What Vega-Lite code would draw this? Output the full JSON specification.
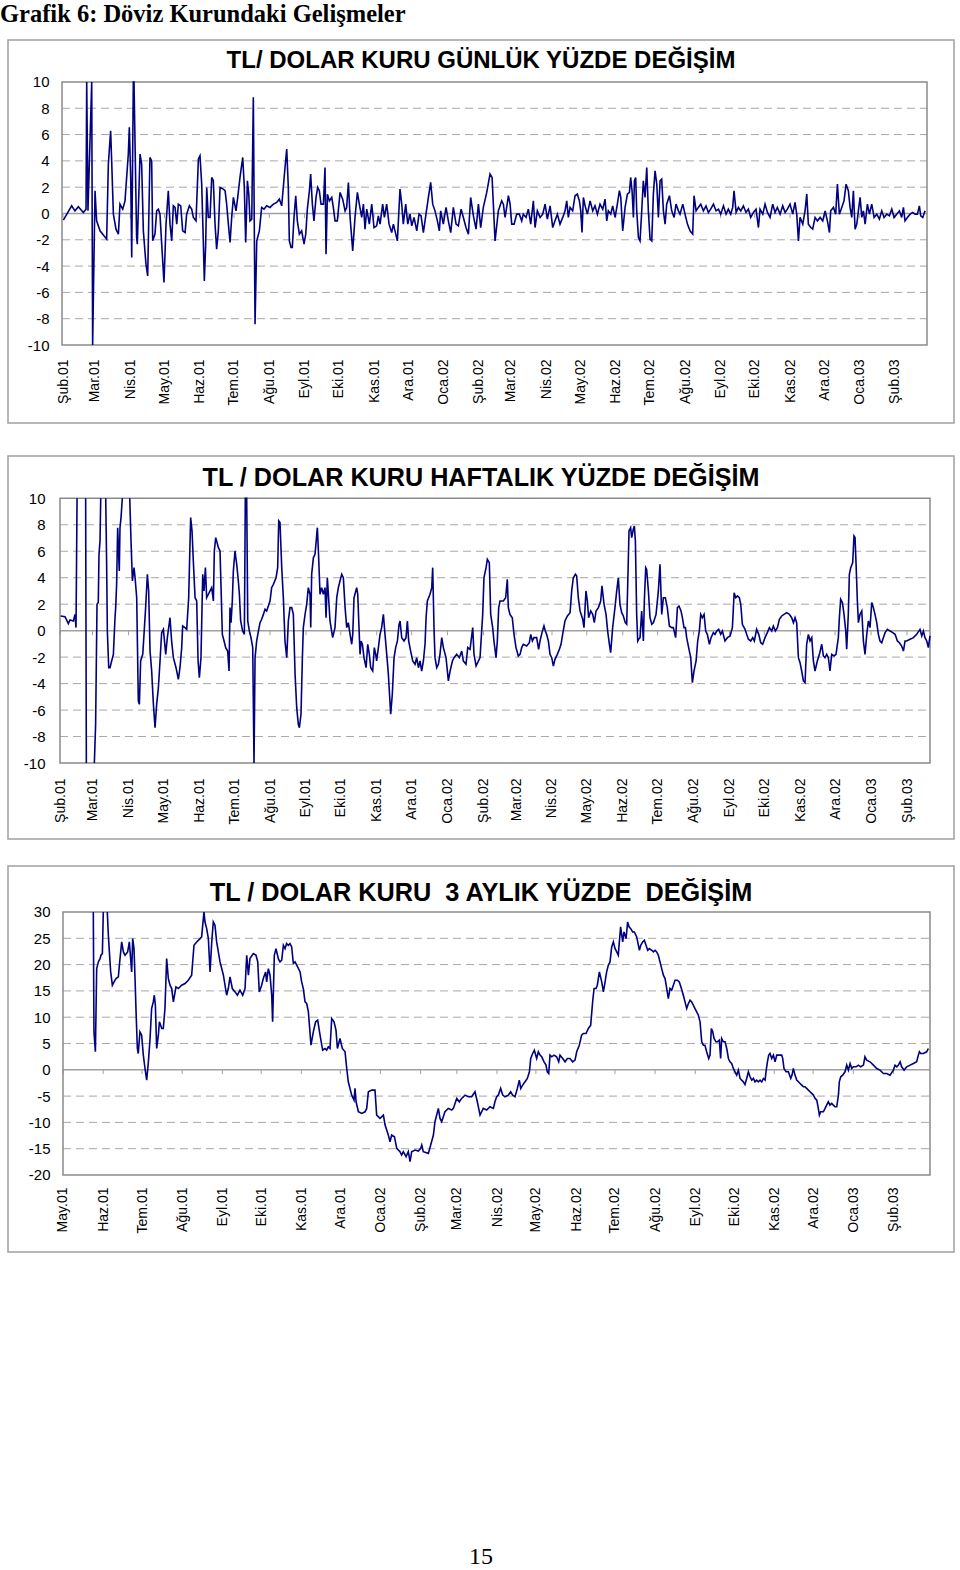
{
"$schema": "https://vega.github.io/schema/vega-lite/v6.json",
"background": "white",
"padding": {"left": 0, "top": 1, "right": 0, "bottom": 0},
"title": {"text": "Grafik 6: Döviz Kurundaki Gelişmeler", "anchor": "start", "frame": "group", "font": "Liberation Serif", "fontSize": 24.5, "fontWeight": "bold", "color": "#000", "dx": -8, "offset": 12},
"config": {"view": {"stroke": "#a0a0a0", "strokeWidth": 1.5}},
"datasets": {
"m12": [{"d":0},{"d":28},{"d":59},{"d":89},{"d":120},{"d":150},{"d":181},{"d":212},{"d":242},{"d":273},{"d":303},{"d":334},{"d":365},{"d":393},{"d":424},{"d":454},{"d":485},{"d":515},{"d":546},{"d":577},{"d":607},{"d":638},{"d":668},{"d":699},{"d":730}],
"m3": [{"d":0},{"d":31},{"d":61},{"d":92},{"d":123},{"d":153},{"d":184},{"d":214},{"d":245},{"d":276},{"d":304},{"d":335},{"d":365},{"d":396},{"d":426},{"d":457},{"d":488},{"d":518},{"d":549},{"d":579},{"d":610},{"d":641}],
"daily": [
{"d":0.3,"v":-0.51},{"d":7.6,"v":0.58},{"d":10.5,"v":0.2},{"d":13.5,"v":0.51},{"d":17.8,"v":0.08},{"d":20.2,"v":0.33},{"d":20.8,"v":10},{"d":21.9,"v":0.2},{"d":25.2,"v":10},{"d":26,"v":-10},{"d":28.1,"v":1.73},{"d":29.5,"v":-0.56},{"d":32.5,"v":-1.32},{"d":38.3,"v":-1.95},{"d":39.8,"v":3.76},{"d":41.8,"v":6.29},{"d":42.7,"v":4.0},{"d":44.2,"v":-0.05},{"d":46.5,"v":-1.19},{"d":48.6,"v":-1.57},{"d":50,"v":0.71},{"d":52.4,"v":0.33},{"d":54.4,"v":0.96},{"d":57.3,"v":4.52},{"d":58.2,"v":6.55},{"d":59.4,"v":2.74},{"d":60.3,"v":-3.35},{"d":61.7,"v":10},{"d":62.3,"v":10},{"d":64.6,"v":-1.83},{"d":65.2,"v":-2.33},{"d":67.6,"v":4.52},{"d":69,"v":3.76},{"d":70.5,"v":-1.32},{"d":72.8,"v":-3.86},{"d":74.3,"v":-4.75},{"d":76.3,"v":4.26},{"d":77.8,"v":4.0},{"d":78.7,"v":-2.08},{"d":80.7,"v":-1.57},{"d":82.2,"v":0.2},{"d":83.7,"v":0.33},{"d":85.1,"v":-0.05},{"d":86.6,"v":-2.33},{"d":88.6,"v":-5.25},{"d":90.4,"v":-0.81},{"d":92.4,"v":1.73},{"d":93.9,"v":-0.81},{"d":95.4,"v":-2.08},{"d":96.8,"v":0.58},{"d":98.3,"v":0.46},{"d":99.8,"v":-0.81},{"d":101.2,"v":0.71},{"d":103.3,"v":0.58},{"d":105,"v":-1.32},{"d":107.1,"v":-1.45},{"d":108.5,"v":-0.05},{"d":110.9,"v":0.58},{"d":112.9,"v":0.33},{"d":114.4,"v":-0.3},{"d":116.7,"v":-0.56},{"d":118.8,"v":4.14},{"d":120.2,"v":4.39},{"d":121.7,"v":2.23},{"d":123.1,"v":-2.08},{"d":124,"v":-5.13},{"d":125.2,"v":-2.33},{"d":126.1,"v":1.98},{"d":127.5,"v":-0.3},{"d":129,"v":-0.3},{"d":130.5,"v":2.74},{"d":131.9,"v":2.49},{"d":133.4,"v":-0.81},{"d":134.8,"v":-2.72},{"d":136.3,"v":-1.32},{"d":137.8,"v":1.98},{"d":140.7,"v":1.85},{"d":142.2,"v":1.73},{"d":143.6,"v":0.71},{"d":145.1,"v":-0.81},{"d":146.6,"v":-2.21},{"d":148,"v":-0.3},{"d":149.5,"v":1.22},{"d":151.8,"v":0.2},{"d":153.3,"v":1.22},{"d":155.3,"v":2.74},{"d":157.7,"v":4.26},{"d":159.1,"v":1.98},{"d":160.3,"v":-2.21},{"d":161.8,"v":2.49},{"d":163,"v":1.47},{"d":164.1,"v":-0.56},{"d":165.6,"v":-0.43},{"d":167,"v":8.83},{"d":168.5,"v":-8.43},{"d":170,"v":-2.08},{"d":172.3,"v":-1.32},{"d":174.3,"v":0.46},{"d":176.4,"v":0.33},{"d":178.7,"v":0.58},{"d":181.6,"v":0.46},{"d":184.6,"v":0.71},{"d":187.5,"v":0.84},{"d":189.8,"v":1.09},{"d":191.9,"v":0.58},{"d":194.8,"v":3.5},{"d":196.3,"v":4.9},{"d":197.7,"v":1.98},{"d":198.6,"v":-2.08},{"d":200.1,"v":-2.59},{"d":201.2,"v":-2.59},{"d":202.7,"v":-0.3},{"d":204.2,"v":1.35},{"d":205.6,"v":-0.56},{"d":207.4,"v":-1.57},{"d":209.4,"v":-1.32},{"d":211.5,"v":-2.33},{"d":213,"v":-1.57},{"d":214.4,"v":0.33},{"d":216.2,"v":1.73},{"d":217.3,"v":3.0},{"d":218.8,"v":0.71},{"d":220.2,"v":-0.56},{"d":222,"v":1.22},{"d":223.5,"v":1.98},{"d":224.9,"v":1.73},{"d":226.4,"v":0.71},{"d":228.5,"v":0.71},{"d":229.9,"v":3.5},{"d":230.8,"v":-3.1},{"d":232,"v":1.47},{"d":233.7,"v":0.96},{"d":235.8,"v":1.22},{"d":237.2,"v":0.46},{"d":238.7,"v":-0.56},{"d":240.7,"v":-0.56},{"d":243.1,"v":1.6},{"d":245.4,"v":1.09},{"d":247.5,"v":0.2},{"d":248.9,"v":0.46},{"d":250.4,"v":2.36},{"d":251.9,"v":-0.3},{"d":254.2,"v":-2.84},{"d":256.2,"v":-0.3},{"d":258.3,"v":1.6},{"d":260,"v":0.71},{"d":262.1,"v":-0.3},{"d":263.6,"v":0.71},{"d":265,"v":-1.19},{"d":266.5,"v":0.33},{"d":268.8,"v":-0.81},{"d":270.9,"v":0.71},{"d":272.9,"v":-1.07},{"d":275.2,"v":-0.94},{"d":276.7,"v":-0.18},{"d":278.2,"v":-0.81},{"d":280.5,"v":0.71},{"d":282,"v":-0.3},{"d":284,"v":0.71},{"d":286.1,"v":-0.81},{"d":288.4,"v":-1.45},{"d":289.9,"v":-0.81},{"d":291.3,"v":-1.32},{"d":293.4,"v":-2.08},{"d":295.7,"v":1.85},{"d":297.2,"v":0.71},{"d":298.6,"v":-0.81},{"d":300.7,"v":0.71},{"d":302.5,"v":-0.81},{"d":304.5,"v":-0.05},{"d":306,"v":-0.94},{"d":308,"v":-0.3},{"d":310.4,"v":-1.32},{"d":312.4,"v":-0.05},{"d":314.2,"v":-0.18},{"d":316.2,"v":-1.45},{"d":318.5,"v":-0.05},{"d":320.6,"v":1.22},{"d":322.6,"v":2.36},{"d":324.4,"v":0.71},{"d":326.4,"v":0.2},{"d":328.5,"v":-0.56},{"d":330.2,"v":-1.32},{"d":331.4,"v":0.2},{"d":333.7,"v":-0.81},{"d":336.1,"v":0.46},{"d":338.1,"v":-0.56},{"d":340.2,"v":-1.45},{"d":342.5,"v":0.46},{"d":344.9,"v":-0.81},{"d":346.9,"v":-0.94},{"d":349.3,"v":0.33},{"d":351.3,"v":-0.3},{"d":353.6,"v":-1.07},{"d":355.7,"v":-1.57},{"d":357.7,"v":1.22},{"d":360.1,"v":-0.18},{"d":362.4,"v":-1.19},{"d":364.5,"v":0.71},{"d":366.5,"v":-1.07},{"d":368.8,"v":0.46},{"d":371.8,"v":1.6},{"d":374.7,"v":3.0},{"d":376.5,"v":2.74},
{"d":379.1,"v":-2.08},{"d":382,"v":0.2},{"d":384.9,"v":0.96},{"d":386.4,"v":0.71},{"d":387.9,"v":-0.3},{"d":389.3,"v":0.46},{"d":390.8,"v":1.35},{"d":392.3,"v":0.71},{"d":393.7,"v":-0.81},{"d":395.8,"v":-0.81},{"d":398.1,"v":-0.05},{"d":400.4,"v":-0.05},{"d":402.5,"v":-0.56},{"d":403.9,"v":-0.05},{"d":406.3,"v":-0.3},{"d":408.3,"v":0.33},{"d":410.4,"v":-0.81},{"d":412.7,"v":0.96},{"d":414.2,"v":-1.07},{"d":416.2,"v":0.2},{"d":418.6,"v":-0.3},{"d":420.9,"v":-0.05},{"d":423,"v":0.71},{"d":425,"v":-0.43},{"d":427.4,"v":0.58},{"d":429.7,"v":-1.07},{"d":431.7,"v":-0.56},{"d":433.8,"v":-0.05},{"d":436.1,"v":-0.81},{"d":438.5,"v":-0.3},{"d":440.5,"v":0.2},{"d":442,"v":0.96},{"d":443.4,"v":-0.3},{"d":444.9,"v":0.46},{"d":447.2,"v":0.2},{"d":449.3,"v":1.35},{"d":451.3,"v":1.47},{"d":453.1,"v":0.96},{"d":454.3,"v":0.2},{"d":455.4,"v":-1.45},{"d":456.6,"v":1.22},{"d":458.1,"v":0.58},{"d":460.1,"v":-0.05},{"d":462.5,"v":0.96},{"d":464.8,"v":0.2},{"d":466.8,"v":0.58},{"d":468.9,"v":-0.05},{"d":471.2,"v":0.71},{"d":473.6,"v":0.33},{"d":475.6,"v":1.09},{"d":477.1,"v":-0.56},{"d":478.5,"v":0.2},{"d":480.6,"v":-0.05},{"d":482.3,"v":0.58},{"d":484.4,"v":-0.3},{"d":486.4,"v":0.71},{"d":488.2,"v":1.73},{"d":489.4,"v":1.22},{"d":491.1,"v":-1.32},{"d":493.2,"v":0.46},{"d":495.2,"v":1.47},{"d":497,"v":1.6},{"d":498.1,"v":2.74},{"d":499.3,"v":1.73},{"d":500.5,"v":-0.3},{"d":501.4,"v":2.49},{"d":502.5,"v":2.74},{"d":503.4,"v":0.2},{"d":504.9,"v":-1.83},{"d":506.3,"v":-2.08},{"d":507.8,"v":0.2},{"d":509.2,"v":2.49},{"d":510.7,"v":1.22},{"d":512.2,"v":3.5},{"d":513.6,"v":0.2},{"d":515.1,"v":-1.95},{"d":516.6,"v":-2.08},{"d":518,"v":1.47},{"d":519.5,"v":3.25},{"d":521,"v":2.23},{"d":522.4,"v":-0.3},{"d":523.9,"v":2.49},{"d":525.3,"v":2.61},{"d":526.8,"v":0.2},{"d":528.3,"v":-0.81},{"d":529.7,"v":0.71},{"d":532.1,"v":1.35},{"d":534.1,"v":0.2},{"d":536.2,"v":-0.3},{"d":537.9,"v":0.71},{"d":540,"v":0.2},{"d":541.4,"v":-0.05},{"d":543.8,"v":0.71},{"d":545.8,"v":-0.05},{"d":547.9,"v":-0.81},{"d":550.2,"v":-1.32},{"d":552.5,"v":-1.57},{"d":553.7,"v":1.35},{"d":555.5,"v":0.2},{"d":557.5,"v":0.46},{"d":559.6,"v":0.71},{"d":561.9,"v":0.2},{"d":564.2,"v":0.58},{"d":566.3,"v":0.08},{"d":568.3,"v":0.33},{"d":570.7,"v":0.71},{"d":573,"v":0.2},{"d":575.1,"v":0.33},{"d":577.1,"v":-0.05},{"d":579.5,"v":0.58},{"d":581.8,"v":-0.05},{"d":583.8,"v":0.33},{"d":585.9,"v":-0.05},{"d":587.6,"v":0.46},{"d":588.8,"v":1.73},{"d":590.6,"v":0.08},{"d":592.6,"v":0.46},{"d":594.7,"v":0.2},{"d":597,"v":0.58},{"d":599.3,"v":0.08},{"d":601.4,"v":0.33},{"d":603.4,"v":-0.3},{"d":605.8,"v":0.08},{"d":608.1,"v":0.33},{"d":610.2,"v":-1.07},{"d":611.6,"v":0.33},{"d":614,"v":-0.05},{"d":616,"v":0.71},{"d":618.1,"v":0.08},{"d":620.4,"v":-0.3},{"d":622.7,"v":0.71},{"d":624.8,"v":0.08},{"d":626.8,"v":0.46},{"d":629.2,"v":-0.05},{"d":631.5,"v":0.58},{"d":633.6,"v":0.08},{"d":635.6,"v":0.33},{"d":637.9,"v":0.71},{"d":640.3,"v":-0.05},{"d":642.3,"v":0.84},{"d":643.8,"v":-0.05},{"d":645.3,"v":-2.08},{"d":646.7,"v":-0.3},{"d":649.1,"v":-0.81},{"d":651.1,"v":0.2},{"d":652.6,"v":1.47},{"d":654,"v":-0.81},{"d":656.1,"v":-1.07},{"d":657.8,"v":-1.19},{"d":659.9,"v":-0.3},{"d":662,"v":-0.56},{"d":664.3,"v":-0.3},{"d":666.6,"v":-0.56},{"d":668.7,"v":0.2},{"d":670.7,"v":-0.56},{"d":672.5,"v":-1.45},{"d":673.6,"v":0.2},{"d":676,"v":0.46},{"d":678,"v":-0.05},{"d":679.5,"v":2.23},{"d":681.2,"v":-0.05},{"d":683.3,"v":0.46},{"d":685.3,"v":0.96},{"d":687.1,"v":2.23},{"d":689.1,"v":1.73},{"d":690.6,"v":0.46},{"d":692.1,"v":-0.3},{"d":693.5,"v":1.73},{"d":695,"v":-1.19},{"d":696.5,"v":-0.81},{"d":697.9,"v":0.2},{"d":699.4,"v":1.22},{"d":700.9,"v":-0.3},{"d":702.3,"v":0.2},{"d":703.8,"v":-0.81},{"d":705.8,"v":0.71},{"d":707.6,"v":-0.05},{"d":709.6,"v":0.71},{"d":711.7,"v":-0.3},{"d":714,"v":-0.05},{"d":716.3,"v":-0.43},{"d":718.4,"v":0.2},{"d":720.4,"v":-0.3},{"d":722.8,"v":-0.05},{"d":725.1,"v":-0.18},{"d":727.2,"v":0.33},{"d":729.2,"v":-0.3},{"d":731.5,"v":-0.05},{"d":733.9,"v":0.2},{"d":735.9,"v":-0.3},{"d":737.4,"v":0.46},{"d":738.8,"v":-0.56},{"d":740.9,"v":-0.3},{"d":743.3,"v":-0.05},{"d":745.6,"v":0.08},{"d":747.6,"v":-0.05},{"d":749.7,"v":-0.05},{"d":751.4,"v":0.58},{"d":752.6,"v":-0.18},{"d":754.4,"v":-0.3},{"d":756.4,"v":0.2}
],
"weekly": [
{"d":0.6,"v":1.11},{"d":4.3,"v":1.06},{"d":7.2,"v":0.53},{"d":8.6,"v":0.81},{"d":11.5,"v":0.73},{"d":12.9,"v":1.23},{"d":13.8,"v":0.23},{"d":14.7,"v":10},{"d":18.4,"v":null},{"d":22.1,"v":10},{"d":22.7,"v":-10},{"d":26,"v":null},{"d":29.6,"v":-10},{"d":30.7,"v":-7.08},{"d":31.9,"v":1.99},{"d":33,"v":2.12},{"d":33.6,"v":5.77},{"d":34.5,"v":6.78},{"d":35.1,"v":10},{"d":37,"v":null},{"d":39.4,"v":10},{"d":40.2,"v":5.01},{"d":40.8,"v":-0.03},{"d":42,"v":-2.8},{"d":43.1,"v":-2.8},{"d":44.5,"v":-2.29},{"d":46,"v":-1.79},{"d":47.4,"v":0.98},{"d":48,"v":1.74},{"d":48.8,"v":3.5},{"d":49.7,"v":7.78},{"d":51.1,"v":4.51},{"d":51.7,"v":7.78},{"d":52.6,"v":8.54},{"d":53.7,"v":10},{"d":57,"v":null},{"d":60.1,"v":10},{"d":61.2,"v":6.78},{"d":62.4,"v":3.75},{"d":63.8,"v":4.76},{"d":64.7,"v":4.0},{"d":66.1,"v":2.49},{"d":67.5,"v":-5.31},{"d":68.4,"v":-5.57},{"d":69.5,"v":-2.29},{"d":71.3,"v":-1.79},{"d":72.4,"v":-0.28},{"d":73.8,"v":1.74},{"d":75.3,"v":4.26},{"d":76.4,"v":3.0},{"d":77.6,"v":-1.54},{"d":79,"v":-3.05},{"d":80.5,"v":-5.57},{"d":81.9,"v":-7.33},{"d":83.3,"v":-5.57},{"d":84.8,"v":-4.31},{"d":86.2,"v":-2.29},{"d":87.6,"v":-0.15},{"d":89.1,"v":0.1},{"d":91.1,"v":-1.79},{"d":92.5,"v":-0.53},{"d":94.8,"v":0.98},{"d":96.2,"v":-0.78},{"d":97.7,"v":-2.04},{"d":100,"v":-2.8},{"d":102,"v":-3.68},{"d":103.4,"v":-2.8},{"d":104.9,"v":-1.28},{"d":105.7,"v":0.35},{"d":107.7,"v":0.23},{"d":109.2,"v":0.1},{"d":110,"v":1.23},{"d":110.9,"v":2.49},{"d":112.6,"v":8.54},{"d":113.8,"v":7.53},{"d":114.9,"v":5.26},{"d":116.4,"v":2.49},{"d":117.8,"v":2.24},{"d":119,"v":-2.29},{"d":120.1,"v":-3.55},{"d":121.5,"v":-2.04},{"d":123,"v":4.26},{"d":124.1,"v":3.0},{"d":125.3,"v":4.76},{"d":126.4,"v":2.49},{"d":127.9,"v":2.75},{"d":129.3,"v":3.0},{"d":130.7,"v":3.25},{"d":132.2,"v":2.24},{"d":133,"v":6.02},{"d":134.2,"v":7.03},{"d":135,"v":6.78},{"d":136.5,"v":6.27},{"d":137.9,"v":6.02},{"d":138.8,"v":3.25},{"d":139.9,"v":-0.28},{"d":141.4,"v":-0.78},{"d":142.8,"v":-1.28},{"d":144.5,"v":-1.54},{"d":145.7,"v":-3.05},{"d":146.5,"v":1.74},{"d":147.4,"v":0.6},{"d":148.5,"v":2.24},{"d":149.4,"v":4.51},{"d":150.8,"v":6.02},{"d":152.3,"v":5.01},{"d":153.7,"v":3.75},{"d":154.6,"v":2.75},{"d":155.7,"v":0.73},{"d":157.4,"v":-0.03},{"d":158.9,"v":-0.28},{"d":159.7,"v":10},{"d":160.9,"v":10},{"d":161.8,"v":0.73},{"d":163.2,"v":-0.03},{"d":164.6,"v":-0.53},{"d":166.1,"v":-1.28},{"d":167.2,"v":-10},{"d":168.1,"v":-2.04},{"d":169.5,"v":-0.78},{"d":171,"v":-0.03},{"d":172.4,"v":0.6},{"d":173.8,"v":0.86},{"d":175.3,"v":1.23},{"d":176.7,"v":1.61},{"d":178.1,"v":1.49},{"d":181,"v":2.24},{"d":182.4,"v":3.25},{"d":183.9,"v":3.5},{"d":186.2,"v":4.0},{"d":187.6,"v":4.76},{"d":188.5,"v":8.29},{"d":189.6,"v":8.16},{"d":191.1,"v":4.76},{"d":192.5,"v":2.49},{"d":193.9,"v":-0.78},{"d":195.4,"v":-2.04},{"d":196.8,"v":0.73},{"d":198.2,"v":1.74},{"d":199.7,"v":1.74},{"d":201.1,"v":1.23},{"d":202.6,"v":-3.3},{"d":204,"v":-5.82},{"d":205.4,"v":-7.08},{"d":206.3,"v":-7.33},{"d":207.7,"v":-6.32},{"d":208.9,"v":-2.04},{"d":209.7,"v":0.23},{"d":211.2,"v":1.23},{"d":212.6,"v":1.99},{"d":214,"v":3.25},{"d":215.5,"v":2.75},{"d":216.1,"v":0.23},{"d":216.9,"v":4.26},{"d":218.4,"v":5.52},{"d":219.8,"v":5.77},{"d":221.8,"v":7.78},{"d":222.7,"v":6.02},{"d":224.1,"v":2.75},{"d":225.5,"v":3.25},{"d":227,"v":2.75},{"d":228.4,"v":3.25},{"d":229.3,"v":0.98},{"d":230.4,"v":4.0},{"d":231.3,"v":2.75},{"d":232.7,"v":0.73},{"d":235,"v":-0.53},{"d":237,"v":0.23},{"d":238.5,"v":2.49},{"d":239.9,"v":3.25},{"d":241.3,"v":3.75},{"d":242.8,"v":4.26},{"d":244.2,"v":4.0},{"d":245.7,"v":1.74},{"d":247.1,"v":0.23},{"d":248.5,"v":0.6},{"d":250,"v":-0.28},{"d":251.4,"v":-1.03},{"d":252.3,"v":-0.28},{"d":253.4,"v":2.49},{"d":255.7,"v":3.25},{"d":256.6,"v":2.75},{"d":257.7,"v":0.23},{"d":258.6,"v":-1.79},{"d":259.5,"v":-0.78},{"d":260.6,"v":-1.03},{"d":262,"v":-2.04},{"d":263.8,"v":-2.8},{"d":265.2,"v":-1.03},{"d":266.6,"v":-1.79},{"d":267.8,"v":-2.8},{"d":269.5,"v":-3.05},{"d":270.9,"v":-1.28},{"d":272.1,"v":-1.79},{"d":272.9,"v":-2.29},{"d":274.4,"v":-1.28},{"d":275.8,"v":-0.28},{"d":277.2,"v":0.23},{"d":278.7,"v":1.23},{"d":280.1,"v":-0.28},{"d":281.6,"v":-1.79},{"d":283,"v":-3.3},{"d":285,"v":-6.32},{"d":286.4,"v":-4.81},{"d":287.9,"v":-2.04},{"d":289.3,"v":-1.28},{"d":290.8,"v":-0.78},{"d":292.2,"v":0.48},{"d":293.1,"v":0.73},{"d":294.5,"v":-0.53},{"d":296.5,"v":-0.78},{"d":298.2,"v":-0.53},{"d":299.4,"v":0.73},{"d":300.5,"v":-0.78},{"d":302.2,"v":-1.54},{"d":304,"v":-2.29},{"d":306,"v":-2.54},{"d":307.4,"v":-2.04},{"d":308.9,"v":-2.8},{"d":310.3,"v":-2.29},{"d":311.7,"v":-3.05},{"d":313.2,"v":-2.29},{"d":314.6,"v":-1.03},{"d":315.5,"v":0.98},{"d":316.6,"v":2.24},{"d":318.9,"v":2.75},{"d":320.4,"v":3.25},{"d":321.2,"v":4.76},{"d":322.4,"v":-0.03},{"d":323.2,"v":-2.04},{"d":324.7,"v":-2.8},{"d":326.1,"v":-2.54},{"d":327.5,"v":-1.79},{"d":329,"v":-0.53},{"d":330.4,"v":-1.28},{"d":332.7,"v":-2.04},{"d":334.7,"v":-3.8},{"d":336.2,"v":-3.05},{"d":338.2,"v":-2.29},{"d":339.6,"v":-2.04},{"d":341.9,"v":-1.79},{"d":344.2,"v":-2.04},{"d":346.2,"v":-1.54},{"d":347.6,"v":-2.29},{"d":349.9,"v":-2.54},{"d":351.4,"v":-1.28},{"d":353.4,"v":-1.41},{"d":355.7,"v":0.23},{"d":356.8,"v":-1.79},{"d":358.6,"v":-2.67},{"d":362,"v":-2.04},
{"d":364.3,"v":1.23},{"d":365.4,"v":4.0},{"d":367.2,"v":4.76},{"d":368.3,"v":5.39},{"d":370,"v":5.14},{"d":371.2,"v":1.23},{"d":372.9,"v":0.23},{"d":374,"v":-0.78},{"d":375.8,"v":-2.04},{"d":376.9,"v":-0.78},{"d":378.1,"v":1.74},{"d":379.2,"v":2.24},{"d":382.1,"v":2.24},{"d":384.1,"v":2.49},{"d":385.5,"v":3.88},{"d":386.4,"v":1.74},{"d":387.8,"v":1.23},{"d":389.8,"v":0.98},{"d":391.3,"v":-0.28},{"d":393,"v":-1.28},{"d":395,"v":-1.91},{"d":396.5,"v":-1.79},{"d":397.9,"v":-1.28},{"d":399.3,"v":-1.03},{"d":402.2,"v":-1.16},{"d":404.5,"v":-0.91},{"d":405.7,"v":-0.28},{"d":407.1,"v":-0.78},{"d":408.5,"v":-0.53},{"d":410.8,"v":-0.53},{"d":412.5,"v":-1.41},{"d":413.7,"v":-0.78},{"d":415.4,"v":-0.15},{"d":417.1,"v":0.35},{"d":418.3,"v":-0.03},{"d":419.4,"v":-0.28},{"d":420.9,"v":-0.78},{"d":422.3,"v":-1.79},{"d":423.8,"v":-2.04},{"d":425.2,"v":-2.67},{"d":426.6,"v":-2.17},{"d":428.6,"v":-1.79},{"d":430.4,"v":-1.41},{"d":431.8,"v":-1.03},{"d":433.2,"v":-0.28},{"d":435.2,"v":0.73},{"d":437.3,"v":1.11},{"d":439.6,"v":1.36},{"d":441,"v":3.0},{"d":442.4,"v":4.0},{"d":444.2,"v":4.26},{"d":445.3,"v":4.13},{"d":446.7,"v":2.49},{"d":448.2,"v":1.49},{"d":450.5,"v":0.86},{"d":451.6,"v":0.23},{"d":453.3,"v":3.0},{"d":454.5,"v":2.24},{"d":455.6,"v":0.98},{"d":457.4,"v":1.49},{"d":459.1,"v":1.23},{"d":460.5,"v":0.6},{"d":462,"v":1.49},{"d":464,"v":1.74},{"d":466,"v":2.24},{"d":467.1,"v":3.38},{"d":468.9,"v":1.99},{"d":470.6,"v":1.23},{"d":472,"v":-0.03},{"d":473.5,"v":-1.03},{"d":474.6,"v":-1.66},{"d":476.3,"v":0.23},{"d":478.3,"v":1.74},{"d":479.8,"v":3.0},{"d":481.2,"v":4.0},{"d":482.6,"v":1.99},{"d":484.1,"v":1.36},{"d":485.5,"v":1.11},{"d":487.2,"v":0.6},{"d":488.4,"v":0.48},{"d":489.5,"v":4.26},{"d":490.4,"v":7.53},{"d":491.8,"v":7.78},{"d":492.7,"v":7.03},{"d":494.1,"v":7.66},{"d":495,"v":7.91},{"d":495.9,"v":6.78},{"d":497,"v":1.23},{"d":497.9,"v":-0.78},{"d":498.7,"v":-0.65},{"d":499.9,"v":-0.53},{"d":501.3,"v":1.49},{"d":502.8,"v":-0.78},{"d":503.6,"v":2.24},{"d":504.8,"v":4.76},{"d":505.6,"v":4.63},{"d":507.1,"v":3.0},{"d":508.5,"v":0.98},{"d":510,"v":0.48},{"d":511.4,"v":0.6},{"d":513.7,"v":1.23},{"d":515.7,"v":3.0},{"d":517.1,"v":5.01},{"d":518.6,"v":1.23},{"d":520,"v":2.49},{"d":521.7,"v":2.49},{"d":523.4,"v":1.74},{"d":525.2,"v":0.35},{"d":527.2,"v":0.23},{"d":528.6,"v":0.23},{"d":530.6,"v":-0.53},{"d":532.1,"v":1.74},{"d":533.5,"v":1.86},{"d":535.2,"v":1.49},{"d":536.4,"v":0.98},{"d":537.8,"v":0.23},{"d":539,"v":0.23},{"d":540.1,"v":-0.53},{"d":541.8,"v":-1.28},{"d":543.6,"v":-2.04},{"d":545,"v":-3.93},{"d":546.4,"v":-3.05},{"d":548.2,"v":-2.29},{"d":549.6,"v":-0.78},{"d":551,"v":-0.03},{"d":552.2,"v":1.23},{"d":553.6,"v":0.98},{"d":555.1,"v":1.23},{"d":556.5,"v":-0.03},{"d":557.9,"v":-0.28},{"d":559.7,"v":-1.03},{"d":561.1,"v":-0.53},{"d":563.1,"v":-0.15},{"d":564.5,"v":-0.28},{"d":566,"v":-0.03},{"d":567.7,"v":0.1},{"d":569.4,"v":-0.28},{"d":570.9,"v":-0.03},{"d":573.1,"v":-0.78},{"d":575.2,"v":-0.53},{"d":577.5,"v":-0.4},{"d":579.5,"v":0.23},{"d":581,"v":2.87},{"d":582.4,"v":2.49},{"d":583.8,"v":2.62},{"d":585.5,"v":2.49},{"d":586.7,"v":1.99},{"d":588.1,"v":0.48},{"d":590.4,"v":0.1},{"d":591.8,"v":-0.28},{"d":593.3,"v":-0.65},{"d":595.3,"v":-0.78},{"d":597,"v":-0.53},{"d":598.4,"v":-0.78},{"d":600.4,"v":0.1},{"d":602.2,"v":-0.28},{"d":603.9,"v":-0.91},{"d":605.6,"v":-1.03},{"d":607.6,"v":-0.53},{"d":609.6,"v":-0.15},{"d":611.4,"v":0.23},{"d":613.4,"v":-0.03},{"d":614.8,"v":0.35},{"d":616.5,"v":-0.03},{"d":618.3,"v":0.23},{"d":620,"v":0.86},{"d":622,"v":1.11},{"d":624,"v":1.23},{"d":626.3,"v":1.36},{"d":628.6,"v":1.23},{"d":630.6,"v":0.98},{"d":632.1,"v":0.6},{"d":633.5,"v":0.98},{"d":634.9,"v":0.6},{"d":636.4,"v":-2.04},{"d":637.8,"v":-2.42},{"d":639.2,"v":-3.05},{"d":640.7,"v":-3.8},{"d":642.1,"v":-3.93},{"d":643.5,"v":-1.03},{"d":645,"v":-0.28},{"d":646.4,"v":-0.78},{"d":647.9,"v":-0.53},{"d":649.3,"v":-2.29},{"d":650.7,"v":-3.05},{"d":652.7,"v":-2.29},{"d":654.5,"v":-1.79},{"d":656.5,"v":-1.03},{"d":657.9,"v":-1.91},{"d":659.3,"v":-2.04},{"d":660.8,"v":-1.79},{"d":662.2,"v":-2.04},{"d":663.6,"v":-3.05},{"d":665.1,"v":-1.79},{"d":667.1,"v":-1.91},{"d":668.8,"v":-1.79},{"d":670.8,"v":-0.53},{"d":671.7,"v":0.98},{"d":672.8,"v":2.37},{"d":674.3,"v":2.12},{"d":675.7,"v":1.23},{"d":677.2,"v":-0.03},{"d":678,"v":-1.41},{"d":679.4,"v":1.23},{"d":680.3,"v":4.26},{"d":681.5,"v":4.76},{"d":683.2,"v":5.14},{"d":684.3,"v":7.15},{"d":685.2,"v":7.03},{"d":686.1,"v":5.01},{"d":687.2,"v":2.24},{"d":688.1,"v":0.6},{"d":689.5,"v":1.23},{"d":691,"v":1.49},{"d":692.4,"v":-0.78},{"d":693.8,"v":-1.79},{"d":695.3,"v":-0.28},{"d":696.7,"v":0.73},{"d":698.1,"v":0.23},{"d":699.6,"v":2.12},{"d":701,"v":1.74},{"d":702.4,"v":1.23},{"d":703.9,"v":0.6},{"d":705.3,"v":-0.28},{"d":706.7,"v":-0.78},{"d":708.2,"v":-0.91},{"d":709.6,"v":-0.53},{"d":711.1,"v":-0.15},{"d":713.1,"v":0.1},{"d":715.4,"v":-0.03},{"d":717.7,"v":-0.15},{"d":719.7,"v":-0.28},{"d":721.7,"v":-0.78},{"d":723.4,"v":-0.91},{"d":725.4,"v":-1.16},{"d":726.9,"v":-1.54},{"d":728.3,"v":-0.78},{"d":729.7,"v":-0.78},{"d":732.6,"v":-0.65},{"d":735.5,"v":-0.53},{"d":738.3,"v":-0.28},{"d":741.2,"v":0.1},{"d":742.7,"v":-0.4},{"d":744.1,"v":-0.03},{"d":745.5,"v":-0.53},{"d":747,"v":-0.78},{"d":748.4,"v":-1.28},{"d":749.8,"v":-0.4}
],
"quarterly": [
{"d":23.4,"v":30},{"d":23.9,"v":7.22},{"d":25,"v":3.42},{"d":26,"v":19.24},{"d":27.3,"v":20.51},{"d":28.6,"v":21.14},{"d":29.3,"v":21.78},{"d":30.4,"v":22.09},{"d":31.1,"v":30},{"d":32.6,"v":null},{"d":34.2,"v":30},{"d":35,"v":25.57},{"d":35.8,"v":22.41},{"d":36.8,"v":18.61},{"d":38.1,"v":16.08},{"d":39.4,"v":16.71},{"d":40.9,"v":17.34},{"d":42.7,"v":17.66},{"d":44,"v":21.14},{"d":45.3,"v":24.31},{"d":46.6,"v":22.41},{"d":47.9,"v":21.78},{"d":49.9,"v":22.41},{"d":51.2,"v":24.31},{"d":53,"v":18.61},{"d":53.8,"v":24.94},{"d":54.8,"v":23.04},{"d":55.6,"v":17.34},{"d":56.4,"v":11.01},{"d":57.4,"v":4.05},{"d":58.1,"v":3.1},{"d":59.4,"v":7.22},{"d":60.7,"v":6.58},{"d":62,"v":2.79},{"d":63.3,"v":0.25},{"d":64.6,"v":-1.96},{"d":65.9,"v":1.52},{"d":67.2,"v":5.95},{"d":68.4,"v":11.65},{"d":69.7,"v":12.91},{"d":70.5,"v":14.18},{"d":71.3,"v":12.28},{"d":72.3,"v":4.05},{"d":73.6,"v":6.58},{"d":74.4,"v":9.12},{"d":76.2,"v":7.85},{"d":77.4,"v":7.85},{"d":78.7,"v":11.65},{"d":80,"v":21.14},{"d":81.3,"v":17.34},{"d":82.6,"v":16.08},{"d":83.9,"v":15.45},{"d":85.2,"v":12.91},{"d":87.2,"v":15.76},{"d":89,"v":15.45},{"d":91.6,"v":16.08},{"d":94.2,"v":16.39},{"d":96.7,"v":17.03},{"d":99.3,"v":17.98},{"d":101.1,"v":23.67},{"d":103.2,"v":24.31},{"d":105.8,"v":24.94},{"d":107,"v":25.26},{"d":108.8,"v":30},{"d":109.6,"v":28.1},{"d":110.9,"v":26.84},{"d":112.2,"v":24.94},{"d":113.5,"v":18.61},{"d":114.8,"v":24.31},{"d":116,"v":28.1},{"d":117.3,"v":27.47},{"d":118.6,"v":24.31},{"d":121.2,"v":20.51},{"d":123.8,"v":17.98},{"d":126.3,"v":14.18},{"d":127.6,"v":15.45},{"d":128.9,"v":17.66},{"d":130.7,"v":15.45},{"d":132.8,"v":14.81},{"d":134.6,"v":14.18},{"d":136.6,"v":15.13},{"d":138.7,"v":14.18},{"d":140.5,"v":15.45},{"d":141.8,"v":21.78},{"d":143.1,"v":17.98},{"d":144.3,"v":21.14},{"d":146.9,"v":22.09},{"d":149,"v":21.78},{"d":150.3,"v":20.51},{"d":151.5,"v":14.81},{"d":153.3,"v":16.08},{"d":154.6,"v":17.34},{"d":156.4,"v":18.61},{"d":157.2,"v":16.71},{"d":158.5,"v":19.24},{"d":159.8,"v":17.98},{"d":161.1,"v":14.18},{"d":161.8,"v":9.12},{"d":163.1,"v":21.78},{"d":164.4,"v":23.04},{"d":166.2,"v":21.14},{"d":167.5,"v":20.51},{"d":168.8,"v":20.83},{"d":170.1,"v":23.67},{"d":171.4,"v":23.04},{"d":172.6,"v":23.99},{"d":173.9,"v":23.67},{"d":175.2,"v":23.99},{"d":176.5,"v":23.36},{"d":177.8,"v":20.19},{"d":179.1,"v":20.51},{"d":180.4,"v":19.88},{"d":183,"v":18.61},{"d":184.2,"v":16.71},{"d":185.5,"v":15.45},{"d":186.8,"v":12.91},{"d":188.1,"v":12.6},{"d":189.4,"v":11.01},{"d":191.4,"v":4.68},{"d":193.2,"v":7.22},{"d":195,"v":9.12},{"d":196.6,"v":9.43},{"d":198.4,"v":6.58},{"d":200.4,"v":3.73},{"d":202.2,"v":4.05},{"d":203.5,"v":3.73},{"d":204.8,"v":4.37},{"d":206.1,"v":4.05},{"d":207.4,"v":9.75},{"d":209.2,"v":9.12},{"d":210.7,"v":7.53},{"d":211.8,"v":4.05},{"d":213.8,"v":5.95},{"d":215.6,"v":4.05},{"d":217.7,"v":3.42},{"d":219,"v":0.25},{"d":220.2,"v":-2.28},{"d":222.8,"v":-4.81},{"d":224.6,"v":-5.76},{"d":225.4,"v":-3.54},{"d":226.2,"v":-6.08},{"d":228,"v":-7.98},{"d":230.5,"v":-8.29},{"d":233.1,"v":-7.98},{"d":234.4,"v":-7.34},{"d":235.7,"v":-4.18},{"d":238.3,"v":-3.86},{"d":240.8,"v":-3.86},{"d":242.1,"v":-8.61},{"d":244.7,"v":-9.24},{"d":247.3,"v":-8.61},{"d":248.6,"v":-10.51},{"d":251.1,"v":-12.41},{"d":252.4,"v":-13.67},{"d":253.7,"v":-12.41},{"d":255.8,"v":-12.72},{"d":257.6,"v":-14.94},{"d":260.1,"v":-15.57},{"d":261.4,"v":-16.2},{"d":262.7,"v":-15.57},{"d":264.8,"v":-16.52},{"d":266.5,"v":-15.57},{"d":267.9,"v":-17.47},{"d":269.1,"v":-15.57},{"d":271.7,"v":-15.26},{"d":274.3,"v":-15.45},{"d":276.1,"v":-14.94},{"d":276.9,"v":-14.31},{"d":278.1,"v":-15.57},{"d":282,"v":-15.89},{"d":283.8,"v":-14.31},{"d":285.9,"v":-12.41},{"d":287.1,"v":-9.87},{"d":288.4,"v":-8.61},{"d":289.7,"v":-7.34},{"d":291,"v":-9.24},{"d":292.3,"v":-9.87},{"d":294.8,"v":-7.98},{"d":297.4,"v":-7.34},{"d":300,"v":-7.66},{"d":301.3,"v":-7.34},{"d":303.9,"v":-5.44},{"d":305.9,"v":-6.08},{"d":307.7,"v":-5.44},{"d":310.3,"v":-4.81},{"d":312.9,"v":-5.13},{"d":315.4,"v":-5.13},{"d":318,"v":-4.18},{"d":319.8,"v":-6.08},{"d":321.9,"v":-8.61},
{"d":324.4,"v":-7.34},{"d":327,"v":-7.66},{"d":329.6,"v":-7.03},{"d":332.2,"v":-7.34},{"d":333.4,"v":-6.08},{"d":334.7,"v":-5.13},{"d":336,"v":-4.81},{"d":337.8,"v":-3.54},{"d":339.4,"v":-4.81},{"d":341.2,"v":-5.13},{"d":343.7,"v":-4.81},{"d":345.5,"v":-4.18},{"d":347.1,"v":-4.81},{"d":348.9,"v":-5.13},{"d":350.7,"v":-3.54},{"d":352.2,"v":-1.96},{"d":353.3,"v":-3.54},{"d":354.8,"v":-2.91},{"d":356.6,"v":-2.28},{"d":358.4,"v":-1.65},{"d":360,"v":-0.38},{"d":361,"v":2.15},{"d":362.5,"v":3.1},{"d":363.8,"v":3.73},{"d":365.6,"v":2.15},{"d":366.9,"v":3.42},{"d":368.2,"v":2.79},{"d":369.5,"v":2.47},{"d":371.3,"v":1.52},{"d":372.8,"v":0.89},{"d":373.8,"v":-0.38},{"d":374.9,"v":-0.7},{"d":375.9,"v":2.79},{"d":377.2,"v":2.47},{"d":379,"v":2.79},{"d":381,"v":2.47},{"d":382.6,"v":1.52},{"d":383.6,"v":2.79},{"d":385.7,"v":2.15},{"d":387.5,"v":1.52},{"d":389.3,"v":2.15},{"d":391.3,"v":2.15},{"d":393.4,"v":1.52},{"d":395.2,"v":1.84},{"d":396.5,"v":3.42},{"d":398.5,"v":4.68},{"d":400.3,"v":6.58},{"d":401.6,"v":6.9},{"d":403.7,"v":6.9},{"d":405.5,"v":7.85},{"d":407.3,"v":8.48},{"d":408.8,"v":12.91},{"d":409.9,"v":15.45},{"d":411.4,"v":15.45},{"d":412.4,"v":16.08},{"d":414,"v":18.61},{"d":415.8,"v":16.71},{"d":417.1,"v":14.81},{"d":418.4,"v":16.71},{"d":419.6,"v":18.61},{"d":420.9,"v":19.88},{"d":422.2,"v":20.51},{"d":423.5,"v":23.36},{"d":424.8,"v":24.31},{"d":426.1,"v":23.04},{"d":427.4,"v":22.41},{"d":428.6,"v":21.78},{"d":429.4,"v":24.31},{"d":430.4,"v":27.16},{"d":432,"v":24.31},{"d":433,"v":26.21},{"d":434.6,"v":24.94},{"d":435.8,"v":28.1},{"d":436.9,"v":27.16},{"d":438.2,"v":26.84},{"d":439.7,"v":26.21},{"d":441,"v":26.21},{"d":442.8,"v":25.26},{"d":444.9,"v":22.72},{"d":445.9,"v":23.67},{"d":447.4,"v":24.31},{"d":448.7,"v":24.62},{"d":450,"v":23.67},{"d":451.3,"v":22.72},{"d":452.6,"v":23.04},{"d":454.4,"v":22.72},{"d":455.7,"v":22.41},{"d":457,"v":22.72},{"d":458.2,"v":22.41},{"d":459.5,"v":21.78},{"d":460.8,"v":20.51},{"d":462.1,"v":19.24},{"d":463.4,"v":17.98},{"d":464.7,"v":17.34},{"d":466,"v":15.45},{"d":467.2,"v":13.55},{"d":468.5,"v":15.45},{"d":469.8,"v":15.13},{"d":471.1,"v":16.08},{"d":472.4,"v":17.03},{"d":474.2,"v":17.03},{"d":475.7,"v":16.71},{"d":477.3,"v":15.45},{"d":478.8,"v":14.18},{"d":480.1,"v":12.91},{"d":481.4,"v":11.65},{"d":482.7,"v":12.6},{"d":484,"v":13.23},{"d":485.2,"v":12.91},{"d":486.5,"v":12.28},{"d":487.8,"v":11.65},{"d":489.1,"v":11.01},{"d":490.4,"v":10.38},{"d":491.7,"v":9.12},{"d":493,"v":5.32},{"d":494.3,"v":4.68},{"d":495.5,"v":4.68},{"d":496.8,"v":3.42},{"d":498.4,"v":2.15},{"d":499.4,"v":2.79},{"d":500.4,"v":7.85},{"d":501.5,"v":7.22},{"d":502.5,"v":5.95},{"d":504,"v":5.32},{"d":505.1,"v":5.32},{"d":506.6,"v":5.63},{"d":507.6,"v":2.15},{"d":508.4,"v":5.95},{"d":509.7,"v":5.32},{"d":511,"v":5.32},{"d":512.3,"v":4.05},{"d":513.6,"v":2.15},{"d":514.8,"v":1.52},{"d":516.1,"v":1.2},{"d":517.4,"v":0.25},{"d":518.7,"v":-0.38},{"d":520,"v":-1.01},{"d":521.3,"v":-0.06},{"d":522.6,"v":-1.65},{"d":523.8,"v":-1.96},{"d":525.1,"v":-2.28},{"d":526.4,"v":-2.79},{"d":527.7,"v":-1.65},{"d":529,"v":-0.38},{"d":530.3,"v":-1.33},{"d":531.6,"v":-1.96},{"d":532.9,"v":-1.65},{"d":534.1,"v":-2.28},{"d":535.4,"v":-1.96},{"d":536.7,"v":-2.28},{"d":538,"v":-1.96},{"d":539.3,"v":-2.28},{"d":540.6,"v":-1.65},{"d":541.9,"v":-1.96},{"d":542.6,"v":-0.38},{"d":543.7,"v":1.52},{"d":544.7,"v":2.79},{"d":545.7,"v":3.1},{"d":547,"v":2.15},{"d":548.3,"v":2.79},{"d":549.6,"v":1.52},{"d":550.9,"v":2.79},{"d":552.2,"v":2.79},{"d":553.4,"v":2.79},{"d":554.7,"v":2.79},{"d":555.5,"v":2.15},{"d":556.5,"v":0.25},{"d":558.1,"v":-0.38},{"d":559.9,"v":-0.38},{"d":561.7,"v":-1.65},{"d":562.7,"v":-1.01},{"d":563.7,"v":0.25},{"d":565,"v":-1.01},{"d":566.3,"v":-1.96},{"d":567.6,"v":-2.28},{"d":568.9,"v":-2.6},{"d":570.2,"v":-2.91},{"d":571.5,"v":-3.23},{"d":572.7,"v":-3.23},{"d":574,"v":-3.54},{"d":575.3,"v":-3.86},{"d":576.6,"v":-4.18},{"d":577.9,"v":-4.49},{"d":579.2,"v":-4.81},{"d":580.5,"v":-5.44},{"d":581.8,"v":-5.76},{"d":583,"v":-7.34},{"d":583.8,"v":-8.61},{"d":584.8,"v":-7.98},{"d":586.9,"v":-7.98},{"d":588.2,"v":-7.34},{"d":589.4,"v":-6.71},{"d":590.7,"v":-6.08},{"d":592,"v":-6.71},{"d":593.3,"v":-6.39},{"d":594.6,"v":-6.71},{"d":595.9,"v":-7.03},{"d":597.2,"v":-7.03},{"d":598.5,"v":-4.81},{"d":599.2,"v":-2.28},{"d":600.3,"v":-1.33},{"d":601.8,"v":-1.01},{"d":603.6,"v":-0.38},{"d":604.9,"v":0.89},{"d":606.2,"v":-0.06},{"d":607.5,"v":1.2},{"d":608.8,"v":0.25},{"d":610,"v":0.57},{"d":612.1,"v":0.57},{"d":613.9,"v":0.89},{"d":615.7,"v":0.57},{"d":617.8,"v":0.89},{"d":619,"v":2.47},{"d":620.3,"v":1.84},{"d":622.9,"v":1.52},{"d":625.5,"v":0.89},{"d":628.1,"v":0.25},{"d":630.6,"v":-0.06},{"d":633.2,"v":-0.7},{"d":635.8,"v":-0.7},{"d":638.3,"v":-1.01},{"d":640.9,"v":-0.06},{"d":642.2,"v":0.89},{"d":643.5,"v":0.57},{"d":644.8,"v":0.89},{"d":646.1,"v":1.52},{"d":647.3,"v":0.57},{"d":649.2,"v":-0.06},{"d":651.2,"v":0.57},{"d":653.8,"v":0.89},{"d":656.4,"v":1.2},{"d":658.9,"v":1.52},{"d":660.2,"v":2.79},{"d":661,"v":3.42},{"d":662,"v":3.1},{"d":664.1,"v":3.1},{"d":666.6,"v":3.42},{"d":667.9,"v":4.05}
]
},
"spacing": 31,
"vconcat": [
{
 "width": 946, "height": 383,
 "title": {"text": "TL/ DOLAR KURU GÜNLÜK YÜZDE DEĞİŞİM", "offset": -32.5, "font": "Liberation Sans", "fontSize": 24, "fontWeight": "bold", "color": "#000", "anchor": "middle"},
 "resolve": {"axis": {"x": "independent", "y": "independent"}},
 "layer": [
  {"data": {"values": [{"v":-8},{"v":-6},{"v":-4},{"v":-2},{"v":2},{"v":4},{"v":6},{"v":8}]},
   "mark": {"type": "rule", "stroke": "#a8a8a8", "strokeWidth": 1, "strokeDash": [8, 5]},
   "encoding": {"x": {"datum": -0.88, "type": "quantitative", "scale": {"domain": [-48.26, 781.79], "nice": false, "zero": false}, "axis": null}, "x2": {"datum": 758.1},
    "y": {"field": "v", "type": "quantitative", "scale": {"domain": [-15.93, 13.19], "nice": false, "zero": false}, "axis": null}}},
  {"data": {"values": [{"v":0}]},
   "mark": {"type": "rule", "stroke": "#a0a0a0", "strokeWidth": 1.5},
   "encoding": {"x": {"datum": -0.88, "type": "quantitative", "scale": {"domain": [-48.26, 781.79], "nice": false, "zero": false}, "axis": null}, "x2": {"datum": 758.1},
    "y": {"field": "v", "type": "quantitative", "scale": {"domain": [-15.93, 13.19], "nice": false, "zero": false}, "axis": null}}},
  {"data": {"name": "m12"},
   "mark": {"type": "rule", "stroke": "#a0a0a0", "strokeWidth": 1},
   "encoding": {"x": {"field": "d", "type": "quantitative", "scale": {"domain": [-48.26, 781.79], "nice": false, "zero": false}, "axis": null},
    "y": {"datum": 0, "type": "quantitative", "scale": {"domain": [-15.93, 13.19], "nice": false, "zero": false}, "axis": null}, "y2": {"datum": -0.35}}},
  {"data": {"values": [{}]},
   "mark": {"type": "rect", "fillOpacity": 0, "stroke": "#8a8a8a", "strokeWidth": 1.5},
   "encoding": {"x": {"datum": -0.88, "type": "quantitative", "scale": {"domain": [-48.26, 781.79], "nice": false, "zero": false}, "axis": null}, "x2": {"datum": 758.1},
    "y": {"datum": -10, "type": "quantitative", "scale": {"domain": [-15.93, 13.19], "nice": false, "zero": false}, "axis": null}, "y2": {"datum": 10}}},
  {"data": {"name": "daily"},
   "mark": {"type": "line", "color": "#000080", "strokeWidth": 1.6, "invalid": "break-paths-show-domains"},
   "encoding": {
    "x": {"field": "d", "type": "quantitative", "scale": {"domain": [-48.26, 781.79], "nice": false, "zero": false},
     "axis": {"orient": "bottom", "offset": -78, "zindex": 2, "values": [0,28,59,89,120,150,181,212,242,273,303,334,365,393,424,454,485,515,546,577,607,638,668,699,730],
      "labelExpr": "['Şub.01','Mar.01','Nis.01','May.01','Haz.01','Tem.01','Ağu.01','Eyl.01','Eki.01','Kas.01','Ara.01','Oca.02','Şub.02','Mar.02','Nis.02','May.02','Haz.02','Tem.02','Ağu.02','Eyl.02','Eki.02','Kas.02','Ara.02','Oca.03','Şub.03'][indexof([0,28,59,89,120,150,181,212,242,273,303,334,365,393,424,454,485,515,546,577,607,638,668,699,730], datum.value)]",
      "labelAngle": -90, "labelPadding": 14, "labelFontSize": 14, "labelFont": "Liberation Sans", "labelColor": "#000", "labelOverlap": false, "labelBound": false, "labelFlush": false, "domain": false, "ticks": false, "grid": false, "title": null}},
    "y": {"field": "v", "type": "quantitative", "scale": {"domain": [-15.93, 13.19], "nice": false, "zero": false},
     "axis": {"orient": "left", "offset": -54, "zindex": 2, "values": [-10,-8,-6,-4,-2,0,2,4,6,8,10], "labelExpr": "'' + datum.value", "labelPadding": 13, "labelFontSize": 15, "labelFont": "Liberation Sans", "labelColor": "#000", "labelOverlap": false, "labelBound": false, "labelFlush": false, "domain": false, "ticks": false, "grid": false, "title": null}}}}
 ]
},
{
 "spacing": 25,
 "vconcat": [
 {
  "width": 946, "height": 383,
  "title": {"text": "TL / DOLAR KURU HAFTALIK YÜZDE DEĞİŞİM", "offset": -35, "font": "Liberation Sans", "fontSize": 25.2, "fontWeight": "bold", "color": "#000", "anchor": "middle"},
  "resolve": {"axis": {"x": "independent", "y": "independent"}},
  "layer": [
   {"data": {"values": [{"v":-8},{"v":-6},{"v":-4},{"v":-2},{"v":2},{"v":4},{"v":6},{"v":8}]},
    "mark": {"type": "rule", "stroke": "#a8a8a8", "strokeWidth": 1, "strokeDash": [8, 5]},
    "encoding": {"x": {"datum": 0, "type": "quantitative", "scale": {"domain": [-44.82, 770.49], "nice": false, "zero": false}, "axis": null}, "x2": {"datum": 749.8},
     "y": {"field": "v", "type": "quantitative", "scale": {"domain": [-15.742, 13.196], "nice": false, "zero": false}, "axis": null}}},
   {"data": {"values": [{"v":0}]},
    "mark": {"type": "rule", "stroke": "#a0a0a0", "strokeWidth": 1.5},
    "encoding": {"x": {"datum": 0, "type": "quantitative", "scale": {"domain": [-44.82, 770.49], "nice": false, "zero": false}, "axis": null}, "x2": {"datum": 749.8},
     "y": {"field": "v", "type": "quantitative", "scale": {"domain": [-15.742, 13.196], "nice": false, "zero": false}, "axis": null}}},
   {"data": {"name": "m12"},
    "mark": {"type": "rule", "stroke": "#a0a0a0", "strokeWidth": 1},
    "encoding": {"x": {"field": "d", "type": "quantitative", "scale": {"domain": [-44.82, 770.49], "nice": false, "zero": false}, "axis": null},
     "y": {"datum": 0, "type": "quantitative", "scale": {"domain": [-15.742, 13.196], "nice": false, "zero": false}, "axis": null}, "y2": {"datum": -0.35}}},
   {"data": {"values": [{}]},
    "mark": {"type": "rect", "fillOpacity": 0, "stroke": "#8a8a8a", "strokeWidth": 1.5},
    "encoding": {"x": {"datum": 0, "type": "quantitative", "scale": {"domain": [-44.82, 770.49], "nice": false, "zero": false}, "axis": null}, "x2": {"datum": 749.8},
     "y": {"datum": -10, "type": "quantitative", "scale": {"domain": [-15.742, 13.196], "nice": false, "zero": false}, "axis": null}, "y2": {"datum": 10}}},
   {"data": {"name": "weekly"},
    "mark": {"type": "line", "color": "#000080", "strokeWidth": 1.6, "invalid": "break-paths-show-domains"},
    "encoding": {
     "x": {"field": "d", "type": "quantitative", "scale": {"domain": [-44.82, 770.49], "nice": false, "zero": false},
      "axis": {"orient": "bottom", "offset": -76, "zindex": 2, "values": [0,28,59,89,120,150,181,212,242,273,303,334,365,393,424,454,485,515,546,577,607,638,668,699,730],
       "labelExpr": "['Şub.01','Mar.01','Nis.01','May.01','Haz.01','Tem.01','Ağu.01','Eyl.01','Eki.01','Kas.01','Ara.01','Oca.02','Şub.02','Mar.02','Nis.02','May.02','Haz.02','Tem.02','Ağu.02','Eyl.02','Eki.02','Kas.02','Ara.02','Oca.03','Şub.03'][indexof([0,28,59,89,120,150,181,212,242,273,303,334,365,393,424,454,485,515,546,577,607,638,668,699,730], datum.value)]",
       "labelAngle": -90, "labelPadding": 15, "labelFontSize": 14, "labelFont": "Liberation Sans", "labelColor": "#000", "labelOverlap": false, "labelBound": false, "labelFlush": false, "domain": false, "ticks": false, "grid": false, "title": null}},
     "y": {"field": "v", "type": "quantitative", "scale": {"domain": [-15.742, 13.196], "nice": false, "zero": false},
      "axis": {"orient": "left", "offset": -52, "zindex": 2, "values": [-10,-8,-6,-4,-2,0,2,4,6,8,10], "labelExpr": "'' + datum.value", "labelPadding": 15, "labelFontSize": 15, "labelFont": "Liberation Sans", "labelColor": "#000", "labelOverlap": false, "labelBound": false, "labelFlush": false, "domain": false, "ticks": false, "grid": false, "title": null}}}}
  ]
 },
 {
  "width": 946, "height": 386,
  "title": {"text": "TL / DOLAR KURU\u00a0 3 AYLIK YÜZDE\u00a0 DEĞİŞİM", "offset": -40, "font": "Liberation Sans", "fontSize": 25.3, "fontWeight": "bold", "color": "#000", "anchor": "middle"},
  "resolve": {"axis": {"x": "independent", "y": "independent"}},
  "layer": [
   {"data": {"values": [{"v":-15},{"v":-10},{"v":-5},{"v":5},{"v":10},{"v":15},{"v":20},{"v":25}]},
    "mark": {"type": "rule", "stroke": "#a8a8a8", "strokeWidth": 1, "strokeDash": [8, 5]},
    "encoding": {"x": {"datum": 0, "type": "quantitative", "scale": {"domain": [-42.45, 687.71], "nice": false, "zero": false}, "axis": null}, "x2": {"datum": 669.2},
     "y": {"field": "v", "type": "quantitative", "scale": {"domain": [-34.639, 38.745], "nice": false, "zero": false}, "axis": null}}},
   {"data": {"values": [{"v":0}]},
    "mark": {"type": "rule", "stroke": "#a0a0a0", "strokeWidth": 1.5},
    "encoding": {"x": {"datum": 0, "type": "quantitative", "scale": {"domain": [-42.45, 687.71], "nice": false, "zero": false}, "axis": null}, "x2": {"datum": 669.2},
     "y": {"field": "v", "type": "quantitative", "scale": {"domain": [-34.639, 38.745], "nice": false, "zero": false}, "axis": null}}},
   {"data": {"name": "m3"},
    "mark": {"type": "rule", "stroke": "#a0a0a0", "strokeWidth": 1},
    "encoding": {"x": {"field": "d", "type": "quantitative", "scale": {"domain": [-42.45, 687.71], "nice": false, "zero": false}, "axis": null},
     "y": {"datum": 0, "type": "quantitative", "scale": {"domain": [-34.639, 38.745], "nice": false, "zero": false}, "axis": null}, "y2": {"datum": -0.8}}},
   {"data": {"values": [{}]},
    "mark": {"type": "rect", "fillOpacity": 0, "stroke": "#8a8a8a", "strokeWidth": 1.5},
    "encoding": {"x": {"datum": 0, "type": "quantitative", "scale": {"domain": [-42.45, 687.71], "nice": false, "zero": false}, "axis": null}, "x2": {"datum": 669.2},
     "y": {"datum": -20, "type": "quantitative", "scale": {"domain": [-34.639, 38.745], "nice": false, "zero": false}, "axis": null}, "y2": {"datum": 30}}},
   {"data": {"name": "quarterly"},
    "mark": {"type": "line", "color": "#000080", "strokeWidth": 1.6, "invalid": "break-paths-show-domains"},
    "encoding": {
     "x": {"field": "d", "type": "quantitative", "scale": {"domain": [-42.45, 687.71], "nice": false, "zero": false},
      "axis": {"orient": "bottom", "offset": -77, "zindex": 2, "values": [0,31,61,92,123,153,184,214,245,276,304,335,365,396,426,457,488,518,549,579,610,641],
       "labelExpr": "['May.01','Haz.01','Tem.01','Ağu.01','Eyl.01','Eki.01','Kas.01','Ara.01','Oca.02','Şub.02','Mar.02','Nis.02','May.02','Haz.02','Tem.02','Ağu.02','Eyl.02','Eki.02','Kas.02','Ara.02','Oca.03','Şub.03'][indexof([0,31,61,92,123,153,184,214,245,276,304,335,365,396,426,457,488,518,549,579,610,641], datum.value)]",
       "labelAngle": -90, "labelPadding": 12, "labelFontSize": 14, "labelFont": "Liberation Sans", "labelColor": "#000", "labelOverlap": false, "labelBound": false, "labelFlush": false, "domain": false, "ticks": false, "grid": false, "title": null}},
     "y": {"field": "v", "type": "quantitative", "scale": {"domain": [-34.639, 38.745], "nice": false, "zero": false},
      "axis": {"orient": "left", "offset": -55, "zindex": 2, "values": [-20,-15,-10,-5,0,5,10,15,20,25,30], "labelExpr": "'' + datum.value", "labelPadding": 13, "labelFontSize": 15, "labelFont": "Liberation Sans", "labelColor": "#000", "labelOverlap": false, "labelBound": false, "labelFlush": false, "domain": false, "ticks": false, "grid": false, "title": null}}}}
  ]
 }
 ]
},
{
 "width": 946, "height": 259,
 "view": {"stroke": null},
 "data": {"values": [{}]},
 "mark": {"type": "point", "opacity": 0},
 "title": {"text": "15", "orient": "bottom", "anchor": "middle", "font": "Liberation Serif", "fontSize": 24, "fontWeight": "normal", "color": "#000", "offset": 2}
}
]
}
